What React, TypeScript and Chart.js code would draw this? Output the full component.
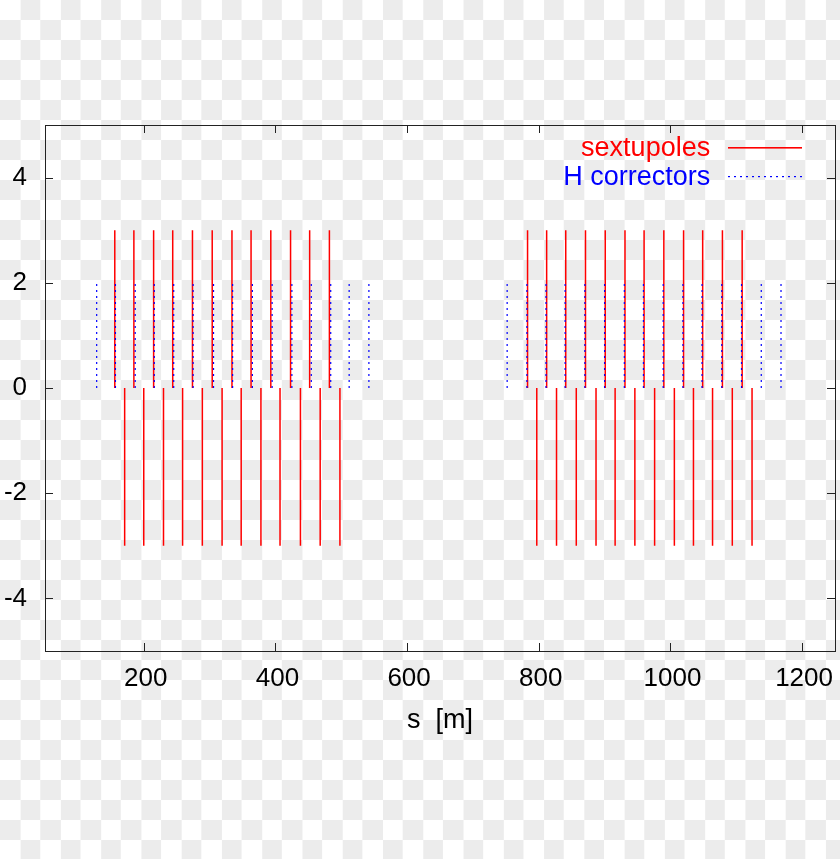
import React, { useEffect, useRef } from "react";
import { Chart, registerables } from "chart.js";

Chart.register(...registerables);

// Sextupole positions s [m] and strengths (impulses)
const sextupoleS = [
  156, 171, 185, 200, 215, 230, 244, 259, 274, 289, 304, 319,
  334, 348, 363, 378, 393, 407, 423, 438, 452, 468, 482, 498,
  783, 797, 812, 827, 841, 857, 871, 887, 901, 916, 931, 946,
  960, 976, 990, 1006, 1020, 1035, 1049, 1064, 1079, 1094, 1109, 1124,
];
const sextupoleK = [
  3, -3, 3, -3, 3, -3, 3, -3, 3, -3, 3, -3,
  3, -3, 3, -3, 3, -3, 3, -3, 3, -3, 3, -3,
  3, -3, 3, -3, 3, -3, 3, -3, 3, -3, 3, -3,
  3, -3, 3, -3, 3, -3, 3, -3, 3, -3, 3, -3,
];

// Horizontal corrector positions s [m] and kicks
const correctorS = [
  128.5, 157, 187, 216, 245.5, 275, 306, 335, 365, 395, 425, 454.5, 484, 512, 542,
  752, 782, 811, 840, 870, 900, 930, 959, 989, 1019, 1048, 1078, 1108, 1138, 1168,
];
const correctorK = [
  2, 2, 2, 2, 2, 2, 2, 2, 2, 2, 2, 2, 2, 2, 2,
  2, 2, 2, 2, 2, 2, 2, 2, 2, 2, 2, 2, 2, 2, 2,
];

const xTicks = [200, 400, 600, 800, 1000, 1200];
const yTicks = [-4, -2, 0, 2, 4];
const xRange = [50, 1250];
const yRange = [-5, 5];

const FONT = '"Liberation Sans", Arial, Helvetica, sans-serif';

function impulses(s: number[], k: number[]) {
  const pts: { x: number; y: number | null }[] = [];
  s.forEach((v, i) => {
    pts.push({ x: v, y: 0 });
    pts.push({ x: v, y: k[i] });
    pts.push({ x: v, y: null });
  });
  return pts;
}

const framePlugin = {
  id: "gnuplotFrame",
  afterDraw(chart: any) {
    const { ctx, chartArea } = chart;
    const { left, right, top, bottom } = chartArea;
    const xs = chart.scales.x;
    const ys = chart.scales.y;
    ctx.save();
    ctx.strokeStyle = "#222";
    ctx.lineWidth = 1;
    ctx.setLineDash([]);
    ctx.strokeRect(left + 0.5, top + 0.5, right - left, bottom - top);
    const tl = 8;
    ctx.beginPath();
    xTicks.forEach((v) => {
      const px = Math.round(xs.getPixelForValue(v)) + 0.5;
      ctx.moveTo(px, bottom);
      ctx.lineTo(px, bottom - tl);
      ctx.moveTo(px, top);
      ctx.lineTo(px, top + tl);
    });
    yTicks.forEach((v) => {
      const py = Math.round(ys.getPixelForValue(v)) + 0.5;
      ctx.moveTo(left, py);
      ctx.lineTo(left + tl, py);
      ctx.moveTo(right, py);
      ctx.lineTo(right - tl, py);
    });
    ctx.stroke();

    // legend (gnuplot style: right-aligned text, sample line to its right)
    const entries = [chart.data.datasets[1], chart.data.datasets[0]];
    const textRight = left + (right - left) * 0.842;
    const sampleL = Math.round(textRight + 18);
    const sampleR = Math.round(right - 33);
    ctx.font = `27px ${FONT}`;
    ctx.textAlign = "right";
    ctx.textBaseline = "middle";
    entries.forEach((ds: any, i: number) => {
      const y = Math.round(top + 22 + i * 28.5);
      const color = ds.borderColor as string;
      ctx.fillStyle = color;
      ctx.fillText(ds.label, textRight, y + 2);
      const dash: number[] = ds.borderDash || [];
      if (dash.length === 0) {
        ctx.fillRect(sampleL, y, sampleR - sampleL, 1.6);
      } else {
        const period = dash[0] + dash[1];
        for (let px = sampleL; px < sampleR; px += period) {
          ctx.fillRect(px, y, dash[0], 1.2);
        }
      }
    });
    ctx.restore();
  },
};

export default function App() {
  const ref = useRef<HTMLCanvasElement | null>(null);

  useEffect(() => {
    if (!ref.current) return;
    const chart = new Chart(ref.current, {
      type: "line",
      data: {
        datasets: [
          {
            label: "H correctors",
            data: impulses(correctorS, correctorK),
            borderColor: "#0000ff",
            borderWidth: 1.2,
            borderDash: [2, 4],
            pointRadius: 0,
            spanGaps: false,
            order: 1,
          },
          {
            label: "sextupoles",
            data: impulses(sextupoleS, sextupoleK),
            borderColor: "#ff0000",
            borderWidth: 1.5,
            pointRadius: 0,
            spanGaps: false,
            order: 2,
          },
        ],
      },
      options: {
        responsive: false,
        animation: false,
        devicePixelRatio: 1,
        layout: { padding: { top: 125, right: 5, left: 0, bottom: 0 } },
        plugins: {
          legend: { display: false },
          tooltip: { enabled: false },
        },
        scales: {
          x: {
            type: "linear",
            min: xRange[0],
            max: xRange[1],
            grid: { display: false, drawTicks: false },
            border: { display: false },
            afterBuildTicks: (scale: any) => {
              scale.ticks = xTicks.map((v) => ({ value: v }));
            },
            afterFit: (scale: any) => {
              scale.height = 208;
              scale.paddingLeft = 0;
              scale.paddingRight = 0;
            },
            ticks: {
              padding: 12,
              labelOffset: 2,
              color: "#000",
              font: { family: FONT, size: 26 },
              maxRotation: 0,
              autoSkip: false,
              callback: (v: any) => String(v),
            },
            title: {
              display: true,
              text: "s  [m]",
              color: "#000",
              font: { family: FONT, size: 27 },
              padding: { top: 0, bottom: 122 },
            },
          },
          y: {
            type: "linear",
            min: yRange[0],
            max: yRange[1],
            grid: { display: false, drawTicks: false },
            border: { display: false },
            afterBuildTicks: (scale: any) => {
              scale.ticks = yTicks.map((v) => ({ value: v }));
            },
            afterFit: (scale: any) => {
              scale.width = 45;
              scale.paddingTop = 0;
              scale.paddingBottom = 0;
            },
            ticks: {
              padding: 18,
              color: "#000",
              font: { family: FONT, size: 26 },
              autoSkip: false,
              callback: (v: any) => String(v),
            },
          },
        },
      },
      plugins: [framePlugin],
    });
    return () => chart.destroy();
  }, []);

  return (
    <div
      style={{
        position: "absolute",
        left: 0,
        top: 0,
        width: 840,
        height: 859,
        background:
          "conic-gradient(#ececec 0 25%, #ffffff 0 50%, #ececec 0 75%, #ffffff 0) 0 0 / 40.27px 40px",
      }}
    >
      <canvas ref={ref} width={840} height={859} style={{ display: "block" }} />
    </div>
  );
}
